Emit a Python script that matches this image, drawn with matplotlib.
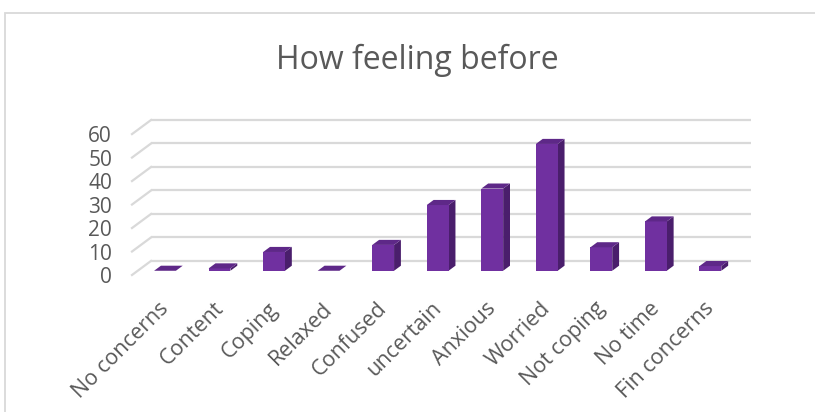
import matplotlib.pyplot as plt
from matplotlib.patches import Polygon, Rectangle

# data
categories = ['No concerns', 'Content', 'Coping', 'Relaxed', 'Confused', 'uncertain',
              'Anxious', 'Worried', 'Not coping', 'No time', 'Fin concerns']
counts = [0, 1, 8, 0, 11, 28, 35, 54, 10, 21, 2]
yticks = [0, 10, 20, 30, 40, 50, 60]

plt.rcParams['font.family'] = ['Open Sans', 'DejaVu Sans']
text_col = '#595959'
grid_col = '#d9d9d9'
front_col = '#7030a0'
side_col = '#4a1e6c'
top_col = '#5e2888'

# fake 3d depth (in data units) of the back wall and the bars
DX, DY = 0.349, 6.0
d0 = 0.3      # depth where bar fronts sit
dd = 0.36     # bar depth
w = 0.4       # bar width

fig = plt.figure(figsize=(8.15, 4.12), dpi=100)
ax = fig.add_axes([132 / 815, 137 / 412, 619 / 815, 155 / 412])
ax.set_xlim(-0.5, len(categories) - 0.5 + DX)
ax.set_ylim(0, 60 + DY)
for s in ax.spines.values():
    s.set_visible(False)

# back wall gridlines + diagonals on the side
x_left = -0.5
x_right = len(categories) - 0.5
for v in yticks:
    ax.plot([x_left + DX, x_right + DX], [v + DY, v + DY], color=grid_col, lw=1.6,
            solid_capstyle='butt', zorder=1, clip_on=False)
    ax.plot([x_left, x_left + DX], [v, v + DY], color=grid_col, lw=1.6,
            zorder=1, clip_on=False)

# bars
for i, v in enumerate(counts):
    x0 = i + d0 * DX - w / 2
    x1 = x0 + w
    yb = d0 * DY
    yt = yb + v
    bx, by = dd * DX, dd * DY
    if v > 0:
        ax.add_patch(Polygon([(x1, yb), (x1 + bx, yb + by), (x1 + bx, yt + by), (x1, yt)],
                             closed=True, fc=side_col, ec='none', zorder=3, clip_on=False))
        ax.add_patch(Polygon([(x0, yb), (x1, yb), (x1, yt), (x0, yt)],
                             closed=True, fc=front_col, ec='none', zorder=4, clip_on=False))
    ax.add_patch(Polygon([(x0, yt), (x1, yt), (x1 + bx, yt + by), (x0 + bx, yt + by)],
                         closed=True, fc=top_col, ec='none', zorder=4, clip_on=False))

ax.set_yticks(yticks)
ax.set_yticklabels([str(t) for t in yticks])
ax.tick_params(axis='y', length=0, pad=14.4, labelsize=15, labelcolor=text_col)

ax.set_xticks([i + 0.12 for i in range(len(categories))])
ax.set_xticklabels(categories, rotation=45, ha='right', va='center', rotation_mode='anchor')
ax.tick_params(axis='x', length=0, pad=22, labelsize=15.5, labelcolor=text_col)

fig.text(417 / 815, 1 - 60 / 412, 'How feeling before', ha='center', va='center',
         fontsize=23, color=text_col)

# chart border
fig.add_artist(Rectangle((5 / 815, -0.1), 1.2, 1.1 - 13 / 412, transform=fig.transFigure,
                         fill=False, ec=grid_col, lw=1.3))

fig.savefig('out.png', dpi=100)
